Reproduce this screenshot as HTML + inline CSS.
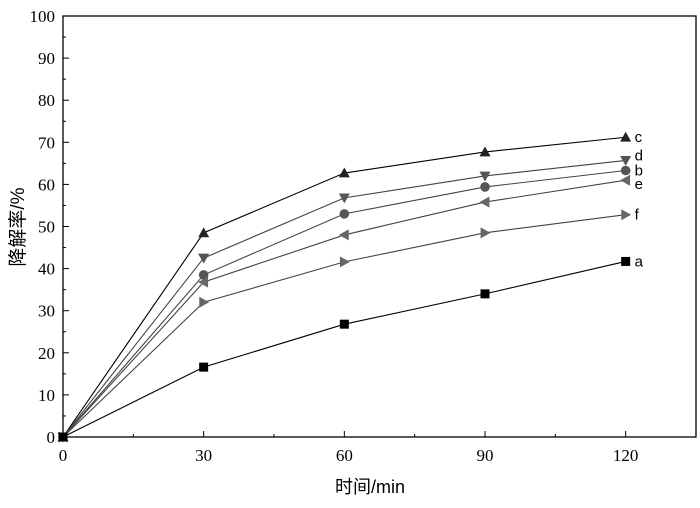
<!DOCTYPE html>
<html><head><meta charset="utf-8"><style>
html,body{margin:0;padding:0;background:#fff;}
svg{display:block;}
</style></head><body>
<svg id="chart" width="700" height="508" xmlns="http://www.w3.org/2000/svg"></svg>
<script>
const xValues = [0, 30, 60, 90, 120];
const seriesNames = ['c','d','b','e','f','a'];
const seriesC = [0, 48.5, 62.7, 67.7, 71.2];
const seriesD = [0, 42.5, 56.8, 62, 65.7];
const seriesB = [0, 38.5, 53, 59.4, 63.3];
const seriesE = [0, 36.8, 48, 55.8, 61];
const seriesF = [0, 32, 41.6, 48.5, 52.8];
const seriesA = [0, 16.6, 26.8, 34, 41.7];
const xTicks = [0, 30, 60, 90, 120];
const yTicks = [0,10,20,30,40,50,60,70,80,90,100];

const NS='http://www.w3.org/2000/svg';
const svg=document.getElementById('chart');
const L=63,R=696,T=16,B=437;
const xMax=135, yMax=100;
const xs=v=>L+(v/xMax)*(R-L);
const ys=v=>B-(v/yMax)*(B-T);
function mk(tag,attrs,parent){const e=document.createElementNS(NS,tag);for(const k in attrs)e.setAttribute(k,attrs[k]);(parent||svg).appendChild(e);return e;}

const frame=mk('rect',{x:L,y:T,width:R-L,height:B-T,fill:'none',stroke:'#000','stroke-width':1.3});



yTicks.forEach(v=>{
  const y=ys(v);
  mk('line',{x1:L,x2:L+6,y1:y,y2:y,stroke:'#000'});
  if(v<100){const ym=ys(v+5);mk('line',{x1:L,x2:L+3,y1:ym,y2:ym,stroke:'#000'});}
  const t=mk('text',{x:L-8,y:y+6,'text-anchor':'end','font-family':'Liberation Serif, serif','font-size':17});
  t.textContent=v;
  
  
});
xTicks.forEach(v=>{
  const x=xs(v);
  mk('line',{x1:x,x2:x,y1:B,y2:B-6,stroke:'#000'});
  const xm=xs(v+15); if(v+15<xMax) mk('line',{x1:xm,x2:xm,y1:B,y2:B-3,stroke:'#000'});
  const t=mk('text',{x:x,y:B+24,'text-anchor':'middle','font-family':'Liberation Serif, serif','font-size':17});
  t.textContent=v;
  
  
});

const xt=mk('text',{x:370,y:493,'text-anchor':'middle','font-family':'Liberation Sans, Noto Sans CJK SC, sans-serif','font-size':18});
xt.textContent='时间/min';


const yt=mk('text',{x:0,y:0,'text-anchor':'middle','font-family':'Liberation Sans, Noto Sans CJK SC, sans-serif','font-size':19,transform:'translate(24,227) rotate(-90)'});
yt.textContent='降解率/%';



const allSeries=[seriesC,seriesD,seriesB,seriesE,seriesF,seriesA];
const colors={c:'#222',d:'#555',b:'#555',e:'#666',f:'#666',a:'#000'};
const markers={c:'tri-up',d:'tri-down',b:'circle',e:'tri-left',f:'tri-right',a:'square'};
const labelDy={c:0,d:-5,b:0,e:4,f:0,a:0};
function marker(type,x,y,fill,g){
  const s=5.5;
  if(type==='square') return mk('rect',{x:x-4.5,y:y-4.5,width:9,height:9,fill:fill},g);
  if(type==='circle') return mk('circle',{cx:x,cy:y,r:4.8,fill:fill},g);
  let p;
  if(type==='tri-up') p=[[x,y-s],[x-s,y+s*0.8],[x+s,y+s*0.8]];
  if(type==='tri-down') p=[[x,y+s],[x-s,y-s*0.8],[x+s,y-s*0.8]];
  if(type==='tri-left') p=[[x-s,y],[x+s*0.8,y-s],[x+s*0.8,y+s]];
  if(type==='tri-right') p=[[x+s,y],[x-s*0.8,y-s],[x-s*0.8,y+s]];
  return mk('polygon',{points:p.map(q=>q.join(',')).join(' '),fill:fill},g);
}
seriesNames.forEach((n,i)=>{
  const vals=allSeries[i];
  const g=mk('g',{});
  
  
  const pts=vals.map((v,j)=>xs(xValues[j])+','+ys(v)).join(' ');
  mk('polyline',{points:pts,fill:'none',stroke:n==='a'||n==='c'?'#000':'#444','stroke-width':1.1},g);
  vals.forEach((v,j)=>{
    const m=marker(markers[n],xs(xValues[j]),ys(v),colors[n],g);
    
    
  });
  const last=vals[vals.length-1];
  const t=mk('text',{x:xs(xValues[xValues.length-1])+9,y:ys(last)+5+labelDy[n],'font-family':'Liberation Sans, sans-serif','font-size':15},g);
  t.textContent=n;
  
  
});
</script>
</body></html>
